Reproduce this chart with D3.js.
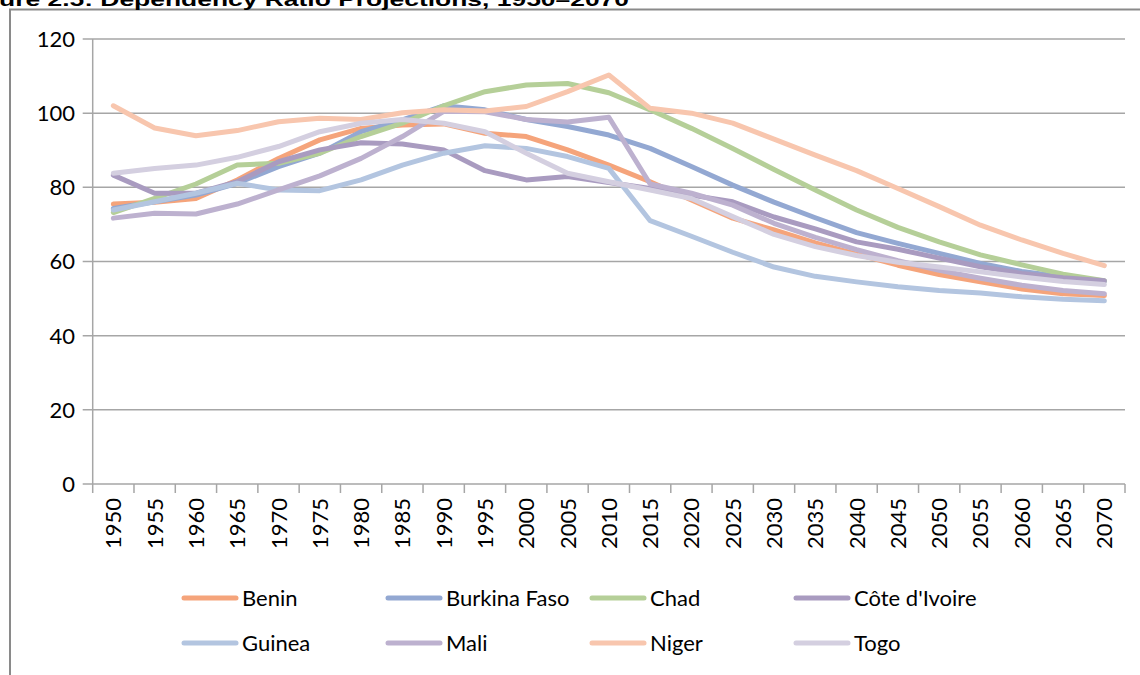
<!DOCTYPE html>
<html>
<head>
<meta charset="utf-8">
<script src="https://cdn.jsdelivr.net/npm/d3@7"></script>
<style>
    body { margin: 0; background: #fff; }
    svg { display: block; }
</style>
</head>
<body>
<div id="chart"></div>
<script>

var years = ["1950", "1955", "1960", "1965", "1970", "1975", "1980", "1985", "1990", "1995",
    "2000", "2005", "2010", "2015", "2020", "2025", "2030", "2035", "2040", "2045",
    "2050", "2055", "2060", "2065", "2070"];

var countries = ["Benin", "Burkina Faso", "Chad", "Côte d'Ivoire", "Guinea", "Mali", "Niger", "Togo"];

var benin = [75.5, 76, 77, 82, 87.8, 92.8, 95.9, 96.8, 97.1, 94.6, 93.7, 90.1, 86, 81.5, 76.6, 71.7,
    68.5, 65, 62, 59, 56.5, 54.5, 52.6, 51.3, 50.8];
var burkinaFaso = [74.3, 76.1, 77.9, 81.1, 85.6, 89.2, 95, 98.2, 102, 100.9, 98.3, 96.4, 94.1, 90.5, 85.6, 80.6,
    76, 71.8, 67.8, 64.9, 62.2, 59.5, 57.3, 55.9, 54.7];
var chad = [73.2, 77, 80.9, 86, 86.5, 89.2, 93.7, 97.3, 102, 105.8, 107.6, 108, 105.5, 100.9, 95.9, 90.5,
    84.8, 79.3, 73.9, 69.2, 65.3, 61.8, 59.1, 56.6, 54.8];
var coteDIvoire = [83.3, 78.4, 78.4, 81.5, 86.9, 90.1, 92, 91.7, 90.1, 84.5, 82, 82.9, 81.3, 79.7, 77.9, 76.1,
    72, 68.8, 65.3, 63.3, 60.9, 58.6, 56.8, 55.6, 54.8];
var guinea = [73.9, 76.1, 78.4, 81.1, 79.3, 79.1, 82, 86, 89.2, 91.2, 90.5, 88.3, 85.1, 71, 66.8, 62.5,
    58.5, 56, 54.5, 53.2, 52.2, 51.5, 50.5, 49.8, 49.4];
var mali = [71.7, 73, 72.8, 75.5, 79.3, 83.1, 87.8, 93.7, 100.5, 100.4, 98.3, 97.6, 98.9, 80.9, 78.4, 75.2,
    70.3, 66.5, 63.2, 60.2, 57.6, 55.5, 53.6, 52.2, 51.3];
var niger = [102, 96, 93.9, 95.3, 97.7, 98.6, 98.3, 100.1, 100.9, 100.6, 101.8, 105.8, 110.3, 101.3, 100, 97.3,
    93, 88.7, 84.5, 79.7, 74.8, 69.8, 65.8, 62.2, 58.9];
var togo = [83.8, 85.1, 86, 88.1, 91, 95, 97.3, 98.3, 97.3, 95, 89.2, 83.8, 81.5, 79.3, 77, 72.1,
    67.3, 64, 61.6, 59.8, 58.5, 57.2, 55.8, 54.6, 53.8];

var yTicks = [0, 20, 40, 60, 80, 100, 120];

var seriesValues = [benin, burkinaFaso, chad, coteDIvoire, guinea, mali, niger, togo];
var colors = ["#f5a47b", "#93a8d2", "#b5cf98", "#a99bc0", "#b3c5e0", "#bdb1cf", "#f8c6ae", "#d4cfe0"];

var svgWidth = 1140;
var svgHeight = 675;

var plot = { left: 92.7, right: 1125, top: 39, bottom: 484 };

var svg = d3.select("#chart")
    .append("svg")
    .attr("width", svgWidth)
    .attr("height", svgHeight);

var fontFamily = "Lato, 'Open Sans', sans-serif";
var gridColor = "#a6a6a6";

// chart frame (its right and bottom edges are cut by the picture)
svg.append("rect")
    .attr("x", 10)
    .attr("y", 9.5)
    .attr("width", 1200)
    .attr("height", 700)
    .attr("fill", "none")
    .attr("stroke", "#8a8a8a")
    .attr("stroke-width", 2);

// title, cropped at the top edge
svg.append("text")
    .attr("x", -1)
    .attr("y", 6)
    .attr("font-family", "'Liberation Sans', Arial, sans-serif")
    .attr("font-weight", "bold")
    .attr("font-size", "19px")
    .attr("textLength", 630)
    .attr("lengthAdjust", "spacingAndGlyphs")
    .text("ure 2.5: Dependency Ratio Projections, 1950\u20132070");

var xScale = d3.scaleBand()
    .domain(years)
    .range([plot.left, plot.right])
    .padding(0);

var yScale = d3.scaleLinear()
    .domain([0, 120])
    .range([plot.bottom, plot.top]);

// horizontal gridlines with their small ticks left of the axis
svg.append("g")
    .selectAll("line")
    .data(yTicks)
    .enter()
    .append("line")
    .attr("x1", plot.left - 10)
    .attr("x2", plot.right)
    .attr("y1", d => yScale(d))
    .attr("y2", d => yScale(d))
    .attr("stroke", gridColor)
    .attr("stroke-width", 1.5);

svg.append("g")
    .selectAll("text")
    .data(yTicks)
    .enter()
    .append("text")
    .attr("x", 75)
    .attr("y", d => yScale(d))
    .attr("dy", "0.36em")
    .attr("text-anchor", "end")
    .attr("font-family", fontFamily)
    .attr("font-size", "22px")
    .attr("fill", "#000")
    .text(d => d);

// vertical axis line
svg.append("line")
    .attr("x1", plot.left)
    .attr("x2", plot.left)
    .attr("y1", plot.top)
    .attr("y2", plot.bottom)
    .attr("stroke", gridColor)
    .attr("stroke-width", 1.5);

// category ticks sit on band boundaries
var boundaries = years.map(d => xScale(d)).concat([plot.right]);
svg.append("g")
    .selectAll("line")
    .data(boundaries)
    .enter()
    .append("line")
    .attr("x1", d => d)
    .attr("x2", d => d)
    .attr("y1", plot.bottom)
    .attr("y2", plot.bottom + 9)
    .attr("stroke", gridColor)
    .attr("stroke-width", 1.5);

var half = xScale.bandwidth() / 2;

svg.append("g")
    .selectAll("text")
    .data(years)
    .enter()
    .append("text")
    .attr("transform", d => `translate(${xScale(d) + half + 8}, ${plot.bottom + 14}) rotate(-90)`)
    .attr("text-anchor", "end")
    .attr("font-family", fontFamily)
    .attr("font-size", "22px")
    .attr("fill", "#000")
    .text(d => d);

// series lines
var line = d3.line()
    .x((d, i) => xScale(years[i]) + half)
    .y(d => yScale(d));

svg.append("g")
    .selectAll("path")
    .data(seriesValues)
    .enter()
    .append("path")
    .attr("d", d => line(d))
    .attr("fill", "none")
    .attr("stroke", (d, i) => colors[i])
    .attr("stroke-width", 5)
    .attr("stroke-linejoin", "round")
    .attr("stroke-linecap", "round");

// legend, two rows of four
var legend = svg.append("g")
    .selectAll("g")
    .data(countries)
    .enter()
    .append("g")
    .attr("transform", (d, i) => `translate(${184 + (i % 4) * 204}, ${i < 4 ? 598 : 643})`);

legend.append("line")
    .attr("x1", 0)
    .attr("x2", 52)
    .attr("y1", 0)
    .attr("y2", 0)
    .attr("stroke", (d, i) => colors[i])
    .attr("stroke-width", 5)
    .attr("stroke-linecap", "round");

legend.append("text")
    .attr("x", 58)
    .attr("y", 0)
    .attr("dy", "0.36em")
    .attr("font-family", fontFamily)
    .attr("font-size", "22px")
    .attr("fill", "#000")
    .text(d => d);

</script>
</body>
</html>
